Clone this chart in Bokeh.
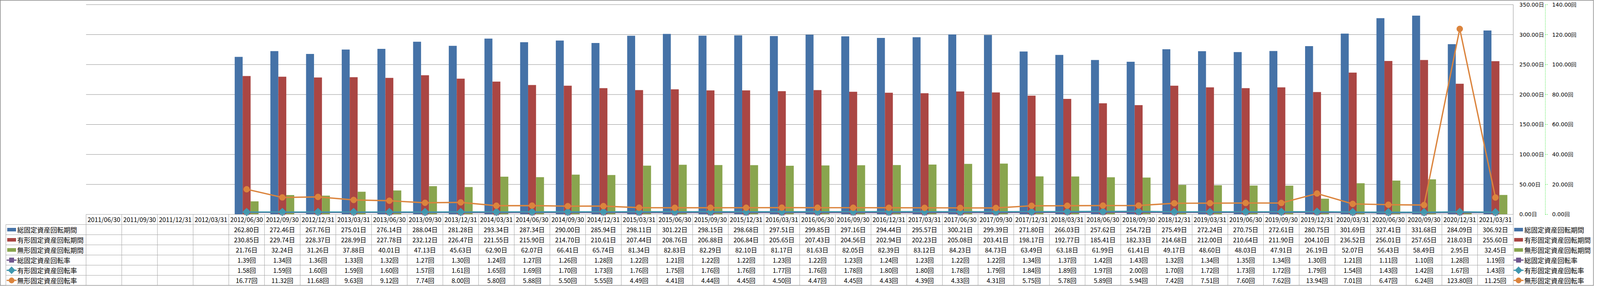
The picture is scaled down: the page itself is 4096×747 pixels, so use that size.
import math
from bokeh.plotting import figure
from bokeh.models import Range1d
from bokeh.core.properties import value
from bokeh.embed import file_html
from bokeh.resources import INLINE

# ---------------- data ----------------
dates = [
    "2011/06/30", "2011/09/30", "2011/12/31", "2012/03/31",
    "2012/06/30", "2012/09/30", "2012/12/31", "2013/03/31",
    "2013/06/30", "2013/09/30", "2013/12/31", "2014/03/31",
    "2014/06/30", "2014/09/30", "2014/12/31", "2015/03/31",
    "2015/06/30", "2015/09/30", "2015/12/31", "2016/03/31",
    "2016/06/30", "2016/09/30", "2016/12/31", "2017/03/31",
    "2017/06/30", "2017/09/30", "2017/12/31", "2018/03/31",
    "2018/06/30", "2018/09/30", "2018/12/31", "2019/03/31",
    "2019/06/30", "2019/09/30", "2019/12/31", "2020/03/31",
    "2020/06/30", "2020/09/30", "2020/12/31", "2021/03/31",
]
total_days = [None, None, None, None,
              262.80, 272.46, 267.76, 275.01, 276.14, 288.04, 281.28, 293.34,
              287.34, 290.00, 285.94, 298.11, 301.22, 298.15, 298.68, 297.51,
              299.85, 297.16, 294.44, 295.57, 300.21, 299.39, 271.80, 266.03,
              257.62, 254.72, 275.49, 272.24, 270.75, 272.61, 280.75, 301.69,
              327.41, 331.68, 284.09, 306.92]
tangible_days = [None, None, None, None,
                 230.85, 229.74, 228.37, 228.99, 227.78, 232.12, 226.47, 221.55,
                 215.90, 214.70, 210.61, 207.44, 208.76, 206.88, 206.84, 205.65,
                 207.43, 204.56, 202.94, 202.23, 205.08, 203.41, 198.17, 192.77,
                 185.41, 182.33, 214.68, 212.00, 210.64, 211.90, 204.10, 236.52,
                 256.01, 257.65, 218.03, 255.60]
intangible_days = [None, None, None, None,
                   21.76, 32.24, 31.26, 37.88, 40.01, 47.13, 45.63, 62.90,
                   62.07, 66.41, 65.74, 81.34, 82.83, 82.29, 82.10, 81.17,
                   81.63, 82.05, 82.39, 83.12, 84.23, 84.73, 63.49, 63.18,
                   61.99, 61.41, 49.17, 48.60, 48.03, 47.91, 26.19, 52.07,
                   56.43, 58.49, 2.95, 32.45]
total_rate = [None, None, None, None,
              1.39, 1.34, 1.36, 1.33, 1.32, 1.27, 1.30, 1.24,
              1.27, 1.26, 1.28, 1.22, 1.21, 1.22, 1.22, 1.23,
              1.22, 1.23, 1.24, 1.23, 1.22, 1.22, 1.34, 1.37,
              1.42, 1.43, 1.32, 1.34, 1.35, 1.34, 1.30, 1.21,
              1.11, 1.10, 1.28, 1.19]
tangible_rate = [None, None, None, None,
                 1.58, 1.59, 1.60, 1.59, 1.60, 1.57, 1.61, 1.65,
                 1.69, 1.70, 1.73, 1.76, 1.75, 1.76, 1.76, 1.77,
                 1.76, 1.78, 1.80, 1.80, 1.78, 1.79, 1.84, 1.89,
                 1.97, 2.00, 1.70, 1.72, 1.73, 1.72, 1.79, 1.54,
                 1.43, 1.42, 1.67, 1.43]
intangible_rate = [None, None, None, None,
                   16.77, 11.32, 11.68, 9.63, 9.12, 7.74, 8.00, 5.80,
                   5.88, 5.50, 5.55, 4.49, 4.41, 4.44, 4.45, 4.50,
                   4.47, 4.45, 4.43, 4.39, 4.33, 4.31, 5.75, 5.78,
                   5.89, 5.94, 7.42, 7.51, 7.60, 7.62, 13.94, 7.01,
                   6.47, 6.24, 123.80, 11.25]
series_names = ["総固定資産回転期間", "有形固定資産回転期間", "無形固定資産回転期間",
                "総固定資産回転率", "有形固定資産回転率", "無形固定資産回転率"]
day_unit = "日"
rate_unit = "回"
day_ticks = [0, 50, 100, 150, 200, 250, 300, 350]
rate_ticks = [0, 20, 40, 60, 80, 100, 120, 140]

# ---------------- style / layout ----------------
BLUE, RED, GREEN = "#4572A7", "#AA4643", "#89A54E"
PURPLE, TEAL, ORANGE = "#71588F", "#4198AF", "#DB843D"
GRID_C = "#8c8c8c"
TABLE_C = "#a3a3a3"
AXIS2_C = "#11dd11"

REF_W, REF_H = 7052, 1286          # reference pixel frame
W, H = 4080, 731                    # output canvas
PLOT_L, PLOT_R = 380, 6695
PLOT_T, PLOT_B = 20, 964
TABLE_B = 1284
N = len(dates)
colw = (PLOT_R - PLOT_L) / N


def u(xref):
    return (xref - PLOT_L) / colw


day_px = (PLOT_B - PLOT_T) / max(day_ticks)
rate_px = (PLOT_B - PLOT_T) / max(rate_ticks)
rowh = (TABLE_B - PLOT_B) / 7.0

x_range = Range1d(u(0), u(REF_W))
y_range = Range1d(-(REF_H - PLOT_B) / day_px, PLOT_B / day_px)
rate_range = Range1d(-(REF_H - PLOT_B) / rate_px, PLOT_B / rate_px)
tbl_range = Range1d((REF_H - PLOT_B) / rowh, -PLOT_B / rowh)

p = figure(width=W, height=H, x_range=x_range, y_range=y_range,
           output_backend="svg", toolbar_location=None,
           x_axis_location=None, y_axis_location=None,
           min_border=0, outline_line_color="#878787", outline_line_width=2,
           background_fill_color="white", border_fill_color="white")
p.min_border_left = p.min_border_right = p.min_border_top = p.min_border_bottom = 0
p.extra_y_ranges = {"rate": rate_range, "tbl": tbl_range}
p.xgrid.visible = False
p.ygrid.visible = False

# gridlines + plot frame right edge
gt = day_ticks[1:]
p.segment(x0=[0] * len(gt), y0=gt, x1=[N] * len(gt), y1=gt,
          line_color=GRID_C, line_width=1)
p.segment(x0=[N], y0=[0], x1=[N], y1=[max(day_ticks)], line_color=GRID_C, line_width=1)

# bars
bw = 35.2 / colw
for vals, color, off in [(total_days, BLUE, -bw), (tangible_days, RED, 0.0),
                         (intangible_days, GREEN, bw)]:
    xs = [i + 0.5 + off for i, v in enumerate(vals) if v is not None]
    tops = [v for v in vals if v is not None]
    p.vbar(x=xs, top=tops, bottom=0, width=bw, fill_color=color, line_color=None)

# lines (secondary axis)
line_specs = [(total_rate, PURPLE, "square", 13, 0.0),
              (tangible_rate, TEAL, "square", 14.5, math.pi / 4),
              (intangible_rate, ORANGE, "circle", 15.5, 0.0)]
for vals, color, mk, sz, ang in line_specs:
    xs = [i + 0.5 for i, v in enumerate(vals) if v is not None]
    ys = [v for v in vals if v is not None]
    p.line(xs, ys, y_range_name="rate", line_color=color, line_width=3.4)
    p.scatter(xs, ys, y_range_name="rate", marker=mk, size=sz, angle=ang,
              fill_color=color, line_color=color)

# right axes
p.text(x=[u(6722)] * len(day_ticks), y=day_ticks,
       text=[f"{t:.2f}{day_unit}" for t in day_ticks],
       text_align="left", text_baseline="middle",
       text_font=value("DejaVu Sans"), text_font_size=value("14px"), text_color="black")
p.segment(x0=[u(6837)], y0=[0], x1=[u(6837)], y1=[max(rate_ticks)], y_range_name="rate",
          line_color=AXIS2_C, line_width=1, line_dash="2 2")
p.segment(x0=[u(6837)] * len(rate_ticks), y0=rate_ticks,
          x1=[u(6849)] * len(rate_ticks), y1=rate_ticks, y_range_name="rate",
          line_color=AXIS2_C, line_width=1, line_dash="2 2")
p.text(x=[u(6867)] * len(rate_ticks), y=rate_ticks, y_range_name="rate",
       text=[f"{t:.2f}{rate_unit}" for t in rate_ticks],
       text_align="left", text_baseline="middle",
       text_font=value("DejaVu Sans"), text_font_size=value("14px"), text_color="black")

# ---------------- data table ----------------
# horizontal lines
p.segment(x0=[0], y0=[0], x1=[N], y1=[0], y_range_name="tbl", line_color=TABLE_C, line_width=1)
rows_y = list(range(1, 8))
p.segment(x0=[u(25)] * len(rows_y), y0=rows_y, x1=[N] * len(rows_y), y1=rows_y,
          y_range_name="tbl", line_color=TABLE_C, line_width=1)
# vertical lines
p.segment(x0=[u(25)], y0=[1], x1=[u(25)], y1=[7], y_range_name="tbl",
          line_color=TABLE_C, line_width=1)
cols_x = list(range(0, N + 1))
p.segment(x0=cols_x, y0=[0] * len(cols_x), x1=cols_x, y1=[7] * len(cols_x),
          y_range_name="tbl", line_color=TABLE_C, line_width=1)

TFONT = value("Noto Sans CJK JP")
# header dates
p.text(x=[i + 0.5 for i in range(N)], y=[0.5] * N, text=dates, y_range_name="tbl",
       text_align="center", text_baseline="middle", text_font=TFONT,
       text_font_size=value("16px"), text_color="black")
# values
all_series = [(total_days, day_unit), (tangible_days, day_unit), (intangible_days, day_unit),
              (total_rate, rate_unit), (tangible_rate, rate_unit), (intangible_rate, rate_unit)]
for r, (vals, unit) in enumerate(all_series):
    xs = [i + 0.5 for i, v in enumerate(vals) if v is not None]
    txt = [f"{v:.2f}{unit}" for v in vals if v is not None]
    p.text(x=xs, y=[r + 1.5] * len(xs), text=txt, y_range_name="tbl",
           text_align="center", text_baseline="middle", text_font=TFONT,
           text_font_size=value("16px"), text_color="black")

# legend keys (left in table, and on the right)
key_colors = [BLUE, RED, GREEN, PURPLE, TEAL, ORANGE]
for kx, tx in [(50.5, 75), (6718.5, 6744)]:
    ys = [r + 1.5 for r in range(6)]
    p.text(x=[u(tx)] * 6, y=ys, text=series_names, y_range_name="tbl",
           text_align="left", text_baseline="middle", text_font=TFONT,
           text_font_size=value("17px"), text_color="black")
    p.rect(x=[u(kx)] * 3, y=ys[:3], width=39 / colw, height=16 / rowh,
           y_range_name="tbl", fill_color=key_colors[:3], line_color=None)
    for r, (vals, color, mk, sz, ang) in enumerate(line_specs):
        yy = r + 4.5
        p.segment(x0=[u(kx - 22)], y0=[yy], x1=[u(kx + 22)], y1=[yy], y_range_name="tbl",
                  line_color=color, line_width=3)
        p.scatter([u(kx)], [yy], y_range_name="tbl", marker=mk, size=sz * 0.9, angle=ang,
                  fill_color=color, line_color=color)

open("out.html", "w").write(file_html(p, INLINE))
